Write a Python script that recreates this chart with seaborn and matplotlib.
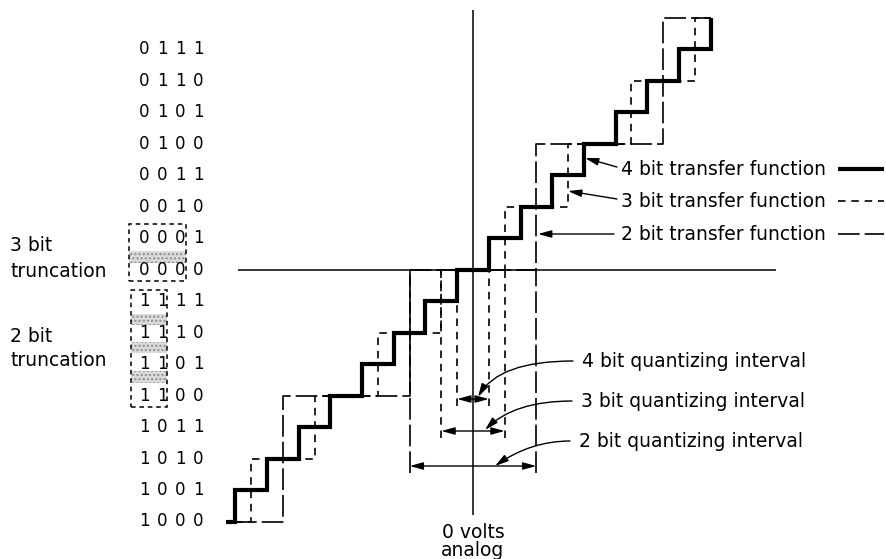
import matplotlib
matplotlib.use("Agg")
import matplotlib.pyplot as plt
import seaborn as sns
import pandas as pd
from matplotlib.patches import Rectangle

# ---------------- data ----------------
codes = ["0111", "0110", "0101", "0100", "0011", "0010", "0001", "0000",
         "1111", "1110", "1101", "1100", "1011", "1010", "1001", "1000"]
code_levels = [7, 6, 5, 4, 3, 2, 1, 0, -1, -2, -3, -4, -5, -6, -7, -8]

edges_4bit = [-7.8, -7.5, -6.5, -5.5, -4.5, -3.5, -2.5, -1.5, -0.5,
              0.5, 1.5, 2.5, 3.5, 4.5, 5.5, 6.5, 7.5]
levels_4bit = [-8, -7, -6, -5, -4, -3, -2, -1, 0, 1, 2, 3, 4, 5, 6, 7, 8]
edges_3bit = [-7.5, -7, -5, -3, -1, 1, 3, 5, 7, 7.5]
levels_3bit = [-8, -6, -4, -2, 0, 2, 4, 6, 8, 8]
edges_2bit = [-7.5, -6, -2, 2, 6, 7.5]
levels_2bit = [-8, -4, 0, 4, 8, 8]

transfer_labels = ["4 bit transfer function", "3 bit transfer function",
                   "2 bit transfer function"]
interval_labels = ["4 bit quantizing interval", "3 bit quantizing interval",
                   "2 bit quantizing interval"]
interval_half = [0.5, 1.0, 2.0]

# ---------------- layout helpers (pixel -> data) ----------------
X0, SX = 473.0, 31.67
Y0, SY = 269.5, 31.5


def dx(p):
    return (p - X0) / SX


def dy(p):
    return (Y0 - p) / SY


sns.set_style("white")
plt.rcParams["font.family"] = ["DejaVu Sans"]
plt.rcParams["text.color"] = "black"

fig = plt.figure(figsize=(8.87, 5.59), dpi=100)
ax = fig.add_axes([0, 0, 1, 1])
ax.set_xlim(dx(0), dx(887))
ax.set_ylim(dy(559), dy(0))
ax.axis("off")

K = "black"
LW_THICK = 3.0
LW_DASH = 1.2
SHORT = (0, (4.5, 3.5))
LONG = (0, (13, 3.0))
FS = 13.5
FS_CODE = 12

# ---------------- axes ----------------
ax.vlines(0, dy(515), dy(10), color=K, lw=1.1)
ax.hlines(0, dx(238), dx(776), color=K, lw=1.1)

# ---------------- staircases ----------------
for edges, levels, lw, ls in [(edges_2bit, levels_2bit, LW_DASH, LONG),
                              (edges_3bit, levels_3bit, LW_DASH, SHORT),
                              (edges_4bit, levels_4bit, LW_THICK, "-")]:
    df = pd.DataFrame({"x": edges, "y": levels})
    sns.lineplot(data=df, x="x", y="y", ax=ax, estimator=None, sort=False,
                 drawstyle="steps-post", color=K, lw=lw, linestyle=ls,
                 solid_capstyle="butt", solid_joinstyle="miter")
ax.set_xlabel("")
ax.set_ylabel("")

# ---------------- code labels ----------------
digit_x = [144, 162, 180, 198]
for code, lev in zip(codes, code_levels):
    for ch, xp in zip(code, digit_x):
        ax.text(dx(xp), lev, ch, ha="center", va="center", fontsize=FS_CODE,
                color=K)


# truncation boxes
def px_rect(x1, y1, x2, y2, **kw):
    return Rectangle((dx(x1), dy(y2)), dx(x2) - dx(x1), dy(y1) - dy(y2), **kw)


for (y1, y2) in [(251, 263)]:
    ax.add_patch(px_rect(129, y1, 186, y2, facecolor="0.86", hatch="....",
                         edgecolor="0.55", lw=0))
for (y1, y2) in [(314, 325), (342, 353), (371, 383)]:
    ax.add_patch(px_rect(131, y1, 167, y2, facecolor="0.86", hatch="....",
                         edgecolor="0.55", lw=0))
ax.add_patch(px_rect(129, 224, 186, 281, fill=False, edgecolor=K, lw=1.1,
                     linestyle=(0, (3, 2.5))))
ax.add_patch(px_rect(131, 290, 167, 407, fill=False, edgecolor=K, lw=1.1,
                     linestyle=(0, (3, 2.5))))

ax.text(dx(10), dy(245), "3 bit", ha="left", va="center", fontsize=FS)
ax.text(dx(10), dy(271), "truncation", ha="left", va="center", fontsize=FS)
ax.text(dx(10), dy(336), "2 bit", ha="left", va="center", fontsize=FS)
ax.text(dx(10), dy(360), "truncation", ha="left", va="center", fontsize=FS)

# ---------------- transfer function labels ----------------
tf_y = [169, 201, 234]
tf_start = [(617, 167), (617, 199), (614, 234)]
tf_tip = [(585, 158), (568, 191), (538, 234)]
tf_styles = [(LW_THICK, "-"), (LW_DASH, SHORT), (LW_DASH, LONG)]
for lab, yp, st, tp, (lw, ls) in zip(transfer_labels, tf_y, tf_start, tf_tip,
                                     tf_styles):
    ax.text(dx(621), dy(yp), lab, ha="left", va="center", fontsize=FS)
    ax.annotate("", xy=(dx(tp[0]), dy(tp[1])), xytext=(dx(st[0]), dy(st[1])),
                arrowprops=dict(arrowstyle="-|>,head_length=0.8,head_width=0.22",
                                color=K, lw=1.0, shrinkA=0, shrinkB=0,
                                mutation_scale=10))
    ax.plot([dx(838), dx(884)], [dy(yp), dy(yp)], color=K, lw=lw,
            linestyle=ls, solid_capstyle="butt")

# ---------------- quantizing intervals ----------------
dim_y = [dy(399), dy(431), dy(466)]
ext_styles = [SHORT, SHORT, LONG]
for h, yd, ls in zip(interval_half, dim_y, ext_styles):
    ax.vlines([-h, h], yd - 0.22, 0, color=K, lw=LW_DASH, linestyles=[ls])
    ax.annotate("", xy=(-h, yd), xytext=(h, yd),
                arrowprops=dict(arrowstyle="<|-|>,head_length=0.8,head_width=0.22",
                                color=K, lw=1.0, shrinkA=0, shrinkB=0,
                                mutation_scale=10))

iv_text = [(582, 361), (581, 401), (579, 441)]
iv_start = [(573, 361), (572, 401), (570, 441)]
iv_tip = [(478, 397), (485, 430), (495, 466)]
iv_angle = [60, 45, 35]
for lab, tx, st, tp, ang in zip(interval_labels, iv_text, iv_start, iv_tip,
                                iv_angle):
    ax.text(dx(tx[0]), dy(tx[1]), lab, ha="left", va="center", fontsize=FS)
    ax.annotate("", xy=(dx(tp[0]), dy(tp[1])), xytext=(dx(st[0]), dy(st[1])),
                arrowprops=dict(arrowstyle="-|>,head_length=0.8,head_width=0.22",
                                color=K, lw=1.0, shrinkA=0, shrinkB=0,
                                mutation_scale=10,
                                connectionstyle=f"angle3,angleA=0,angleB={ang}"))

# ---------------- zero volts label ----------------
ax.text(0, dy(532), "0 volts", ha="center", va="center", fontsize=FS)
ax.text(0, dy(551), "analog", ha="center", va="center", fontsize=FS)

fig.savefig("out.png", dpi=100, facecolor="white")
